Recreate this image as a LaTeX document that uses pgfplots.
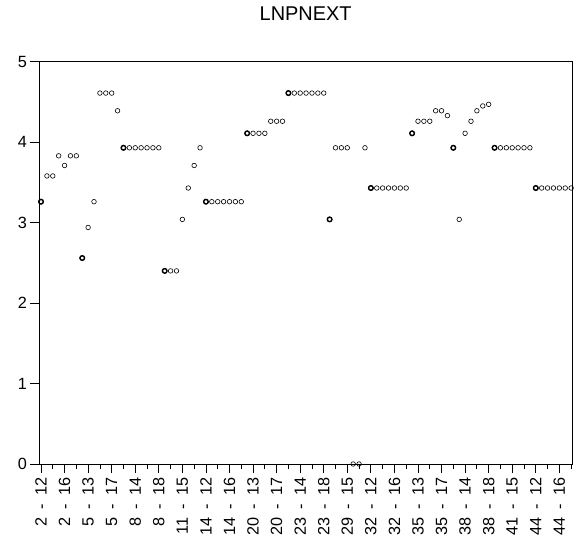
\documentclass[border=0pt]{standalone}
\usepackage{fontspec}
\setmainfont{Liberation Sans}
\usepackage{pgfplots}
\pgfplotsset{compat=1.18}
\usepackage{pgfplotstable}

% cross-section id - period label
\newcommand{\lbl}[2]{#1\hspace{0.5em}-\hspace{0.5em}#2}

% obs index, value (cross-section id - period, periods 12..18)
\pgfplotstableread{
x y
0 3.26
1 3.58
2 3.58
3 3.83
4 3.71
5 3.83
6 3.83
7 2.56
8 2.94
9 3.26
10 4.61
11 4.61
12 4.61
13 4.39
14 3.93
15 3.93
16 3.93
17 3.93
18 3.93
19 3.93
20 3.93
21 2.40
22 2.40
23 2.40
24 3.04
25 3.43
26 3.71
27 3.93
28 3.26
29 3.26
30 3.26
31 3.26
32 3.26
33 3.26
34 3.26
35 4.11
36 4.11
37 4.11
38 4.11
39 4.26
40 4.26
41 4.26
42 4.61
43 4.61
44 4.61
45 4.61
46 4.61
47 4.61
48 4.61
49 3.04
50 3.93
51 3.93
52 3.93
53 0
54 0
55 3.93
56 3.43
57 3.43
58 3.43
59 3.43
60 3.43
61 3.43
62 3.43
63 4.11
64 4.26
65 4.26
66 4.26
67 4.39
68 4.39
69 4.33
70 3.93
71 3.04
72 4.11
73 4.26
74 4.39
75 4.45
76 4.47
77 3.93
78 3.93
79 3.93
80 3.93
81 3.93
82 3.93
83 3.93
84 3.43
85 3.43
86 3.43
87 3.43
88 3.43
89 3.43
90 3.43
}\lnpnext

% first period of each cross-section
\pgfplotstableread{
x y
0 3.26
7 2.56
14 3.93
21 2.40
28 3.26
35 4.11
42 4.61
49 3.04
56 3.43
63 4.11
70 3.93
77 3.93
84 3.43
}\firstobs

\begin{document}
\begin{tikzpicture}
\begin{axis}[
  scale only axis,
  width=533.3bp, height=402.3bp,
  xmin=-0.34, xmax=90.2,
  ymin=0, ymax=5,
  ytick={0,1,2,3,4,5},
  xtick={0,4,...,88},
  minor xtick={2,6,...,90},
  xticklabels={\lbl{2}{12},\lbl{2}{16},\lbl{5}{13},\lbl{5}{17},\lbl{8}{14},\lbl{8}{18},\lbl{11}{15},\lbl{14}{12},\lbl{14}{16},\lbl{20}{13},\lbl{20}{17},\lbl{23}{14},\lbl{23}{18},\lbl{29}{15},\lbl{32}{12},\lbl{32}{16},\lbl{35}{13},\lbl{35}{17},\lbl{38}{14},\lbl{38}{18},\lbl{41}{15},\lbl{44}{12},\lbl{44}{16}},
  xtick pos=bottom, ytick pos=left,
  tick align=outside,
  major tick length=9bp,
  minor tick length=5bp,
  every tick/.style={black, line width=0.8bp},
  axis line style={line width=1bp},
  /pgf/number format/assume math mode=true,
  tick label style={font=\fontsize{16.3}{19}\selectfont},
  xticklabel style={rotate=90, anchor=east, inner sep=4.5bp},
  yticklabel style={inner sep=3bp},
  title={LNPNEXT},
  title style={font=\fontsize{20}{24}\selectfont, anchor=base, yshift=35bp, inner sep=0pt},
]
\addplot[only marks, mark=o, mark size=2.3bp, line width=0.6bp, black] table {\lnpnext};
\addplot[only marks, mark=o, mark size=2.3bp, line width=1.4bp, black] table {\firstobs};
\end{axis}
\path ([shift={(-39bp,-79bp)}]current axis.south west) rectangle ([shift={(9.7bp,61.7bp)}]current axis.north east);
\end{tikzpicture}
\end{document}
